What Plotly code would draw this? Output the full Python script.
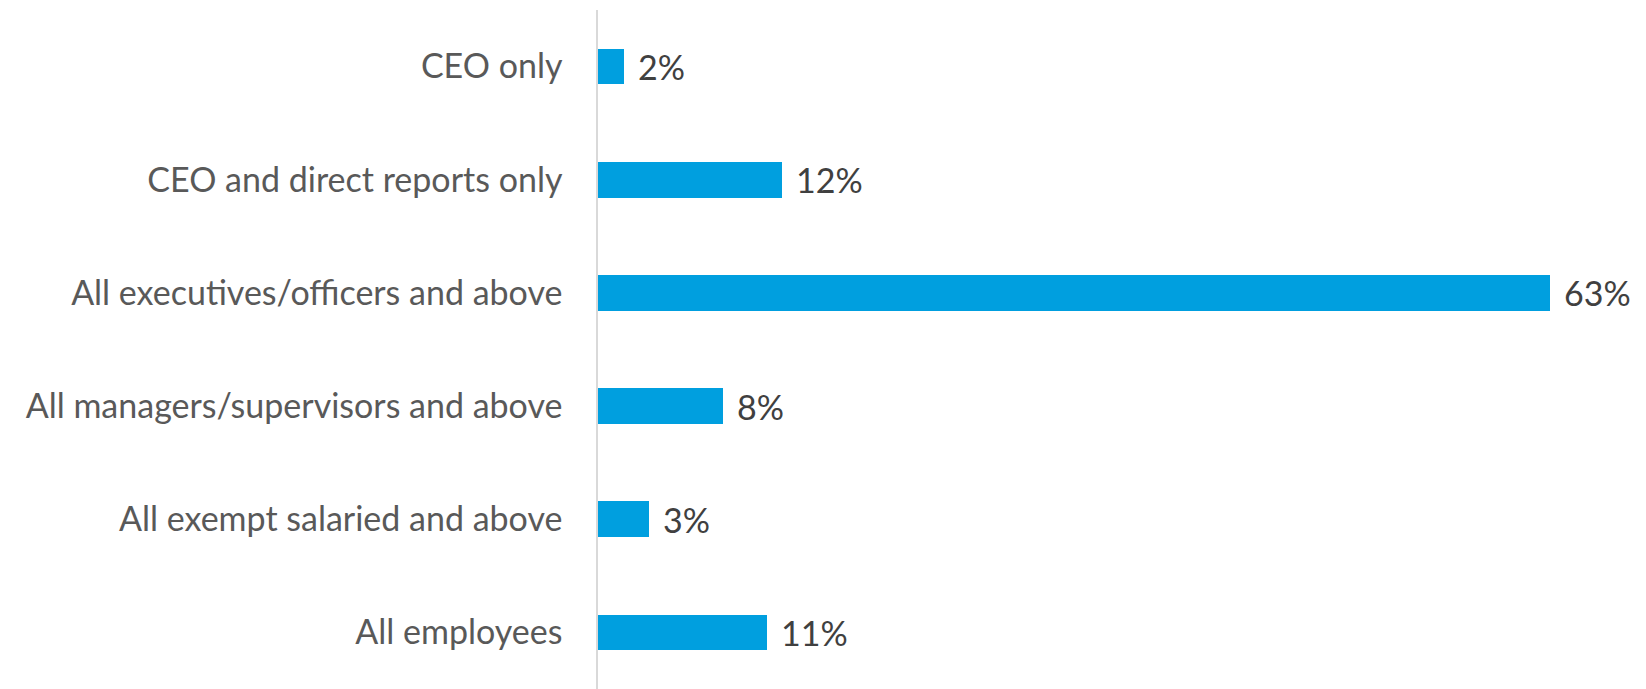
import plotly.graph_objects as go

categories = [
    "CEO only",
    "CEO and direct reports only",
    "All executives/officers and above",
    "All managers/supervisors and above",
    "All exempt salaried and above",
    "All employees",
]
values = [1.7, 12.2, 63.0, 8.3, 3.4, 11.2]
labels = ["2%", "12%", "63%", "8%", "3%", "11%"]

BAR = "#009FDF"
FONT = "Lato"

fig = go.Figure()
fig.add_trace(go.Bar(
    y=categories, x=values, orientation="h",
    marker=dict(color=BAR, line=dict(width=0)),
    width=0.315,
    hoverinfo="skip",
))

for c, v, t in zip(categories, values, labels):
    fig.add_annotation(
        x=v, y=c, text=t, showarrow=False, xanchor="left", yanchor="middle",
        xshift=12, font=dict(family=FONT, size=34, color="#404040"),
    )

fig.update_layout(
    width=1646, height=689,
    margin=dict(l=598, r=28, t=10, b=0),
    paper_bgcolor="white", plot_bgcolor="white",
    showlegend=False,
    bargap=0,
)
fig.update_xaxes(
    range=[0, 67.5], visible=False, showgrid=False, zeroline=False,
)
fig.update_yaxes(
    autorange="reversed", showgrid=False, zeroline=False,
    showline=True, linecolor="#D9D9D9", linewidth=1.5,
    ticks="", ticklabelstandoff=27,
    tickfont=dict(family=FONT, size=34, color="#595959"),
)

fig.write_html("out.html")
